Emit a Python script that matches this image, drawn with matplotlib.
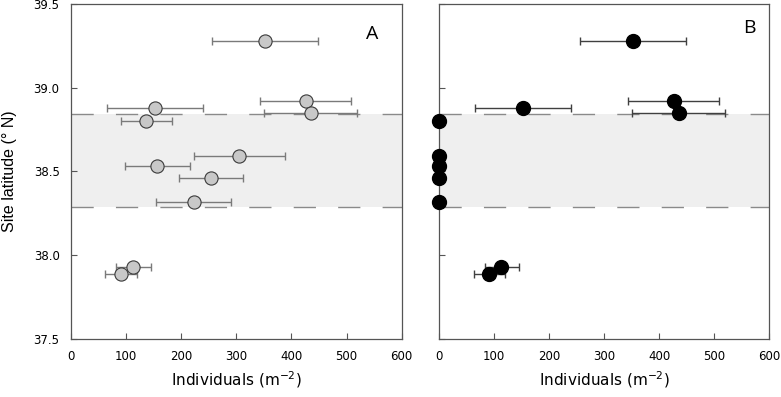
import matplotlib.pyplot as plt
import numpy as np

# site latitudes (deg N) and densities
lat = [39.28, 38.92, 38.85, 38.88, 38.80, 38.59, 38.53, 38.46, 38.32, 37.93, 37.885]
dens_a = [352, 426, 436, 153, 137, 306, 157, 255, 224, 113, 91]
lo_a = [256, 344, 350, 65, 91, 223, 98, 196, 155, 83, 63]
hi_a = [449, 508, 519, 240, 183, 388, 216, 313, 291, 145, 120]

# panel B: sites inside the band are at zero, no error bars
dens_b = [352, 426, 436, 153, 0, 0, 0, 0, 0, 113, 91]
lo_b = [256, 344, 350, 65, 0, 0, 0, 0, 0, 83, 63]
hi_b = [449, 508, 519, 240, 0, 0, 0, 0, 0, 145, 120]

band = [38.286, 38.842]
yticks = [37.5, 38.0, 38.5, 39.0, 39.5]
xticks = [0, 100, 200, 300, 400, 500, 600]

plt.rcParams['font.family'] = ['DejaVu Sans']

fig = plt.figure(figsize=(7.81, 3.97), dpi=100)
axA = fig.add_axes([0.0905, 0.1469, 0.4238, 0.8423])
axB = fig.add_axes([0.5621, 0.1469, 0.4229, 0.8423])


def setup(ax, show_ylabels):
    ax.set_xlim(0, 600)
    ax.set_ylim(37.5, 39.5)
    ax.axhspan(band[0], band[1], color='#efefef', lw=0, zorder=0)
    for b in band:
        ax.axhline(b, color='#8a8a8a', lw=1.0, dashes=(16, 16), zorder=1)
    ax.set_xticks(xticks)
    ax.set_yticks(yticks)
    ax.tick_params(direction='in', length=4, width=0.8, color='#555555',
                   labelsize=8.5, pad=8)
    if show_ylabels:
        ax.set_yticklabels(['%.1f' % t for t in yticks])
    else:
        ax.set_yticklabels([])
    for s in ax.spines.values():
        s.set_color('#555555')
        s.set_linewidth(0.9)
    ax.set_xlabel('Individuals (m$^{\\mathregular{-2}}$)', fontsize=11,
                  family='DejaVu Sans', labelpad=5)


setup(axA, True)
setup(axB, False)
axA.set_ylabel('Site latitude (° N)', fontsize=11.5, family='Liberation Sans',
               labelpad=12)

da = np.array(dens_a)
xerr_a = [da - np.array(lo_a), np.array(hi_a) - da]
axA.errorbar(dens_a, lat, xerr=xerr_a, fmt='none', ecolor='#7a7a7a',
             elinewidth=1.0, capsize=3, capthick=1.0, zorder=2)
axA.plot(dens_a, lat, 'o', ms=9.5, mfc='#c8c8c8', mec='#3a3a3a', mew=0.8,
         zorder=3, clip_on=False)

db = np.array(dens_b)
xerr_b = [db - np.array(lo_b), np.array(hi_b) - db]
has_err = db > 0
axB.errorbar(db[has_err], np.array(lat)[has_err],
             xerr=[xerr_b[0][has_err], xerr_b[1][has_err]], fmt='none',
             ecolor='#404040', elinewidth=1.0, capsize=3, capthick=1.0, zorder=2)
axB.plot(dens_b, lat, 'o', ms=10, mfc='black', mec='black', zorder=3,
         clip_on=False)

axA.text(0.912, 0.91, 'A', transform=axA.transAxes, fontsize=14,
         family='Open Sans', ha='center', va='center')
axB.text(0.94, 0.93, 'B', transform=axB.transAxes, fontsize=14,
         family='Open Sans', ha='center', va='center')

fig.savefig('out.png', dpi=100)
